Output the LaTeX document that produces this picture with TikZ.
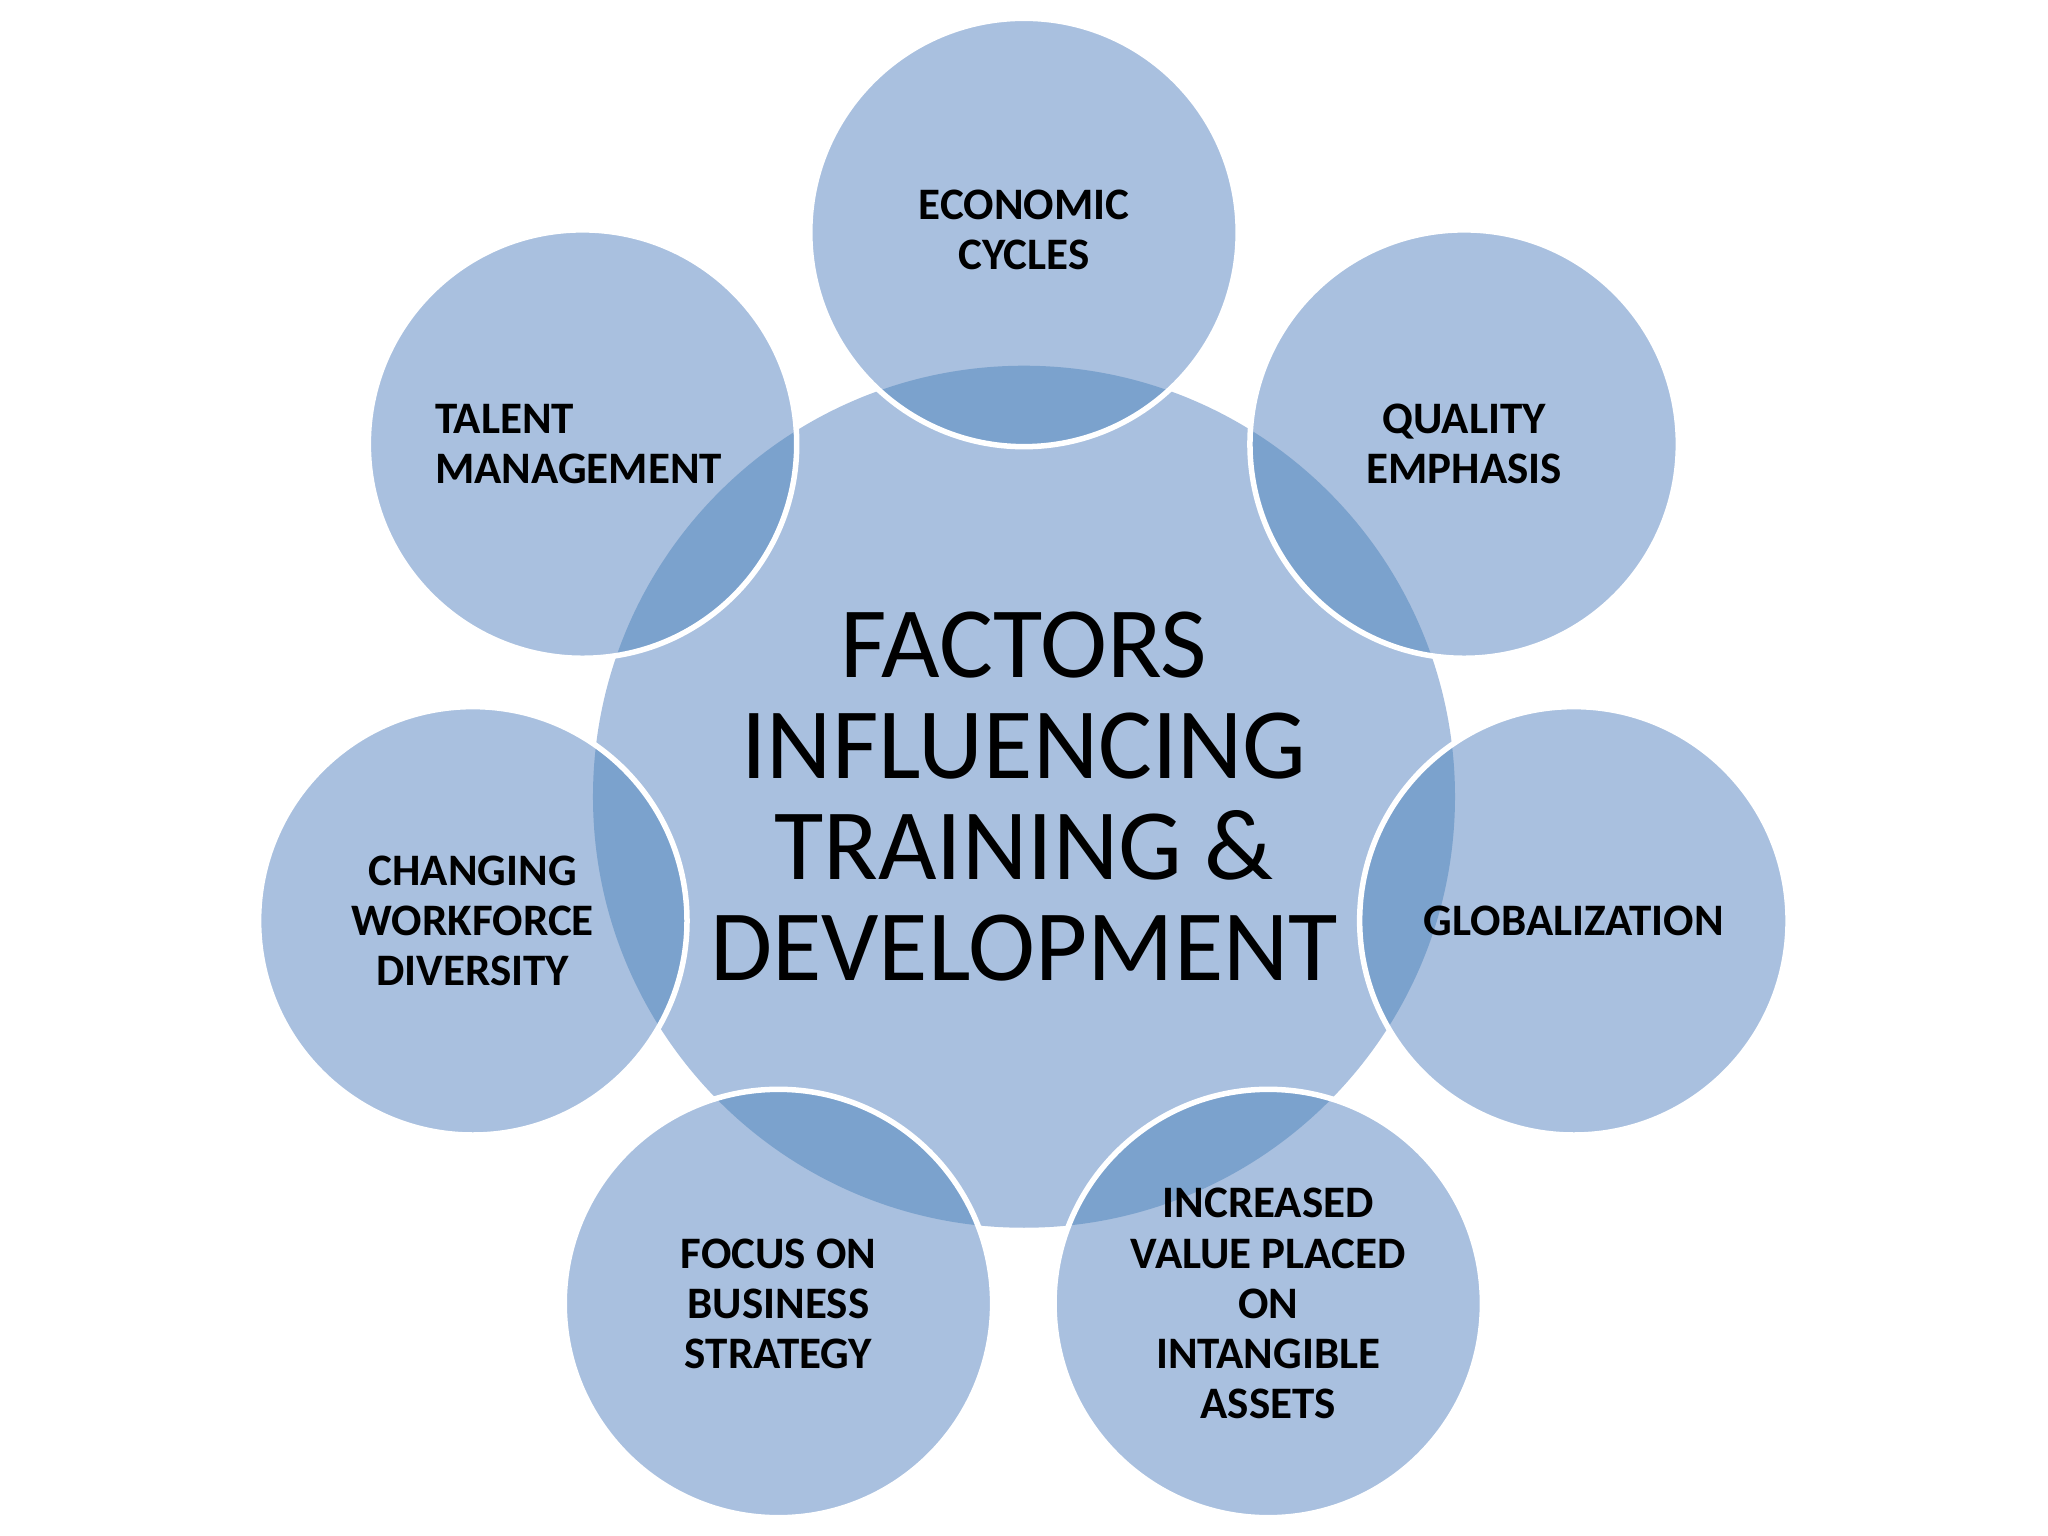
\documentclass[tikz,border=0pt]{standalone}
\usepackage{fontspec}
\setmainfont{Carlito}
\definecolor{base}{HTML}{A9C0DF}
\definecolor{ovl}{HTML}{7BA2CD}
\begin{document}
\begin{tikzpicture}[x=0.01cm,y=-0.01cm,
  sm/.style={font=\bfseries\fontsize{9.8}{10.9}\selectfont,align=center,text=black}]
\useasboundingbox (0,0) rectangle (1568,1176);
\fill[white] (0,0) rectangle (1568,1176);
\def\R{164}
\fill[base] (784,610) circle (330);
\foreach \x/\y in {784/178,1121/340,1205/705,971/998,596/998,362/705,446/340}{
  \fill[base] (\x,\y) circle (\R);
  \begin{scope}
    \clip (784,610) circle (330);
    \fill[ovl] (\x,\y) circle (\R);
  \end{scope}
  \draw[white,line width=1.2pt] (\x,\y) circle (\R);
}
\node[font=\fontsize{22}{22}\selectfont,align=center] (c) at (784,610) {FACTORS\\INFLUENCING\\TRAINING \&\\DEVELOPMENT};
\node[sm] (a) at (784,176) {ECONOMIC\\CYCLES};
\node[sm] (b) at (1121,340) {QUALITY\\EMPHASIS};
\node[sm] (g) at (1205,705) {GLOBALIZATION};
\node[sm] (i) at (971,998) {INCREASED\\VALUE PLACED\\ON\\INTANGIBLE\\ASSETS};
\node[sm] (f) at (596,998) {FOCUS ON\\BUSINESS\\STRATEGY};
\node[sm] (w) at (362,705) {CHANGING\\WORKFORCE\\DIVERSITY};
\node[sm,align=left] (t) at (443,340) {TALENT\\MANAGEMENT};
\end{tikzpicture}
\end{document}
